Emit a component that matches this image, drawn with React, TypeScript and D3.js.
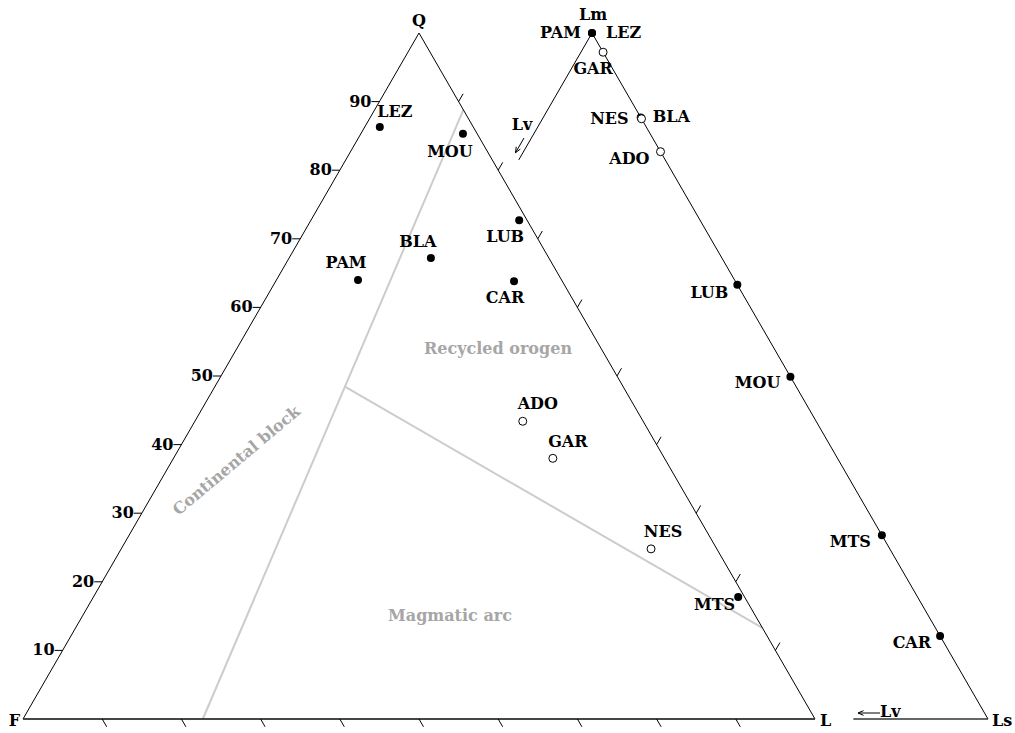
import React from "react";
import * as d3 from "d3";

// ---------- DATA ----------
// QFL diagram (percent)
const qflSamples = ["LEZ", "MOU", "BLA", "PAM", "LUB", "CAR", "ADO", "GAR", "NES", "MTS"];
const qflQ = [86.3, 85.3, 67.2, 64.0, 72.7, 63.8, 43.4, 38.0, 24.8, 17.8];
const qflF = [11.8, 1.8, 14.9, 25.7, 1.0, 6.1, 15.2, 14.1, 8.3, 0.8];
const qflL = [1.9, 12.9, 17.9, 10.3, 26.3, 30.1, 41.4, 47.9, 66.9, 81.4];
const qflOpen = [false, false, false, false, false, false, true, true, true, false];

// LmLvLs diagram (percent)
const lithSamples = ["PAM", "LEZ", "BLA", "GAR", "NES", "ADO", "LUB", "MOU", "MTS", "CAR"];
const lithLm = [100, 100, 87.7, 97.2, 87.5, 82.7, 63.3, 49.9, 26.8, 12.1];
const lithLv = [0, 0, 0, 0, 0, 0, 0, 0, 0, 0];
const lithLs = [0, 0, 12.3, 2.8, 12.5, 17.3, 36.7, 50.1, 73.2, 87.9];
const lithOpen = [false, false, false, true, true, true, false, false, false, false];

// Provenance field boundaries (Q, F, L)
const fieldLineContinental = [
  { Q: 0, F: 77.3, L: 22.7 },
  { Q: 88.8, F: 0, L: 11.2 },
];
const fieldLineArc = [
  { Q: 48.4, F: 35.1, L: 16.5 },
  { Q: 13.3, F: 0, L: 86.7 },
];
const fieldNames = ["Recycled orogen", "Magmatic arc", "Continental block"];

const qTickValues = [10, 20, 30, 40, 50, 60, 70, 80, 90];

// ---------- LAYOUT ----------
const W = 1015;
const H = 733;
const FONT = "'DejaVu Serif', serif";

const qflLabelPos: Record<string, [number, number, string]> = {
  LEZ: [15, -10, "middle"],
  MOU: [-13, 23, "middle"],
  BLA: [-13, -11, "middle"],
  PAM: [-12, -12, "middle"],
  LUB: [-14, 22, "middle"],
  CAR: [-9, 22, "middle"],
  ADO: [15, -12, "middle"],
  GAR: [15, -11, "middle"],
  NES: [12, -12, "middle"],
  MTS: [-3, 13, "end"],
};
const lithLabelPos: Record<string, [number, number, string]> = {
  PAM: [-11, 5, "end"],
  LEZ: [14, 5, "start"],
  GAR: [-10, 22, "middle"],
  BLA: [12, 5, "start"],
  NES: [-13, 5, "end"],
  ADO: [-11, 12, "end"],
  LUB: [-9, 13, "end"],
  MOU: [-10, 11, "end"],
  MTS: [-11, 12, "end"],
  CAR: [-9, 12, "end"],
};

export default function App() {
  // shared vertical scale (apex value 100 at top)
  const yScale = d3.scaleLinear().domain([0, 100]).range([719, 33]);
  const xQFL = d3.scaleLinear().domain([0, 100]).range([23, 815]);
  const xLith = d3.scaleLinear().domain([0, 100]).range([196, 988]);

  const pQFL = (Q: number, F: number, L: number): [number, number] => {
    const s = Q + F + L;
    const q = (Q / s) * 100;
    const l = (L / s) * 100;
    return [xQFL(l + q / 2), yScale(q)];
  };
  const pLith = (Lm: number, Lv: number, Ls: number): [number, number] => {
    const s = Lm + Lv + Ls;
    const m = (Lm / s) * 100;
    const r = (Ls / s) * 100;
    return [xLith(r + m / 2), yScale(m)];
  };

  const line = d3.line<[number, number]>();

  const Fv = pQFL(0, 100, 0);
  const Qv = pQFL(100, 0, 0);
  const Lv = pQFL(0, 0, 100);

  const Lmv = pLith(100, 0, 0);
  const Lsv = pLith(0, 0, 100);
  const lvEdgeEnd = pLith(81.5, 18.5, 0);
  const lvBottomStart = pLith(0, 17, 83);

  const tickLen = 9;
  const ticks: JSX.Element[] = [];
  qTickValues.forEach((v) => {
    // left edge (F-Q), horizontal to the left, labelled
    const a = pQFL(v, 100 - v, 0);
    ticks.push(
      <line key={"lt" + v} x1={a[0]} y1={a[1]} x2={a[0] - 8} y2={a[1]} stroke="#000" strokeWidth={1} />
    );
    ticks.push(
      <text key={"ll" + v} x={a[0] - 8} y={a[1] + 5} textAnchor="end" fontFamily={FONT} fontWeight="bold" fontSize={16}>
        {v}
      </text>
    );
    // right edge (Q-L), pointing up-right
    const b = pQFL(v, 0, 100 - v);
    ticks.push(
      <line
        key={"rt" + v}
        x1={b[0]}
        y1={b[1]}
        x2={b[0] + tickLen * 0.5}
        y2={b[1] - tickLen * 0.866}
        stroke="#000"
        strokeWidth={1}
      />
    );
    // bottom edge (F-L), pointing down-right
    const c = pQFL(0, 100 - v, v);
    ticks.push(
      <line
        key={"bt" + v}
        x1={c[0]}
        y1={c[1]}
        x2={c[0] + tickLen * 0.5}
        y2={c[1] + tickLen * 0.866}
        stroke="#000"
        strokeWidth={1}
      />
    );
  });

  const boundary1 = fieldLineContinental.map((d) => pQFL(d.Q, d.F, d.L));
  const boundary2 = fieldLineArc.map((d) => pQFL(d.Q, d.F, d.L));

  const labelStyle = { fontFamily: FONT, fontWeight: "bold" as const, fontSize: 16 };
  const grayStyle = { fontFamily: FONT, fontWeight: "bold" as const, fontSize: 16, fill: "#a6a6a6" };

  const renderPoint = (key: string, p: [number, number], open: boolean) =>
    open ? (
      <circle key={key} cx={p[0]} cy={p[1]} r={4} fill="#fff" stroke="#000" strokeWidth={1} />
    ) : (
      <circle key={key} cx={p[0]} cy={p[1]} r={4} fill="#000" />
    );

  // arrows for Lv
  const arrowA: [number, number] = [524, 138];
  const dir = [-0.5, 0.866];
  const arrowLen = 17;
  const arrowB: [number, number] = [arrowA[0] + dir[0] * arrowLen, arrowA[1] + dir[1] * arrowLen];
  const headLen = 6;
  const ang = Math.atan2(dir[1], dir[0]);
  const head = (tip: [number, number], a: number) => {
    const h1: [number, number] = [tip[0] - headLen * Math.cos(a - 0.4), tip[1] - headLen * Math.sin(a - 0.4)];
    const h2: [number, number] = [tip[0] - headLen * Math.cos(a + 0.4), tip[1] - headLen * Math.sin(a + 0.4)];
    return line([h1, tip, h2]) as string;
  };

  const bArrowStart: [number, number] = [880, 713];
  const bArrowEnd: [number, number] = [858, 713];

  return (
    <svg width={W} height={H} style={{ position: "absolute", left: 0, top: 0, background: "#fff" }}>
      {/* field boundaries */}
      <path d={line(boundary1) as string} stroke="#cccccc" strokeWidth={2} fill="none" />
      <path d={line(boundary2) as string} stroke="#cccccc" strokeWidth={2} fill="none" />

      {/* field names */}
      <text x={498} y={354} textAnchor="middle" {...grayStyle}>
        {fieldNames[0]}
      </text>
      <text x={450} y={621} textAnchor="middle" {...grayStyle}>
        {fieldNames[1]}
      </text>
      <text x={236} y={466} textAnchor="middle" transform="rotate(-40 236 460)" {...grayStyle}>
        {fieldNames[2]}
      </text>

      {/* QFL triangle */}
      <path d={(line([Fv, Qv, Lv]) as string) + "Z"} stroke="#000" strokeWidth={1} fill="none" />
      <line x1={Fv[0]} y1={Fv[1]} x2={Lv[0]} y2={Lv[1]} stroke="#333" strokeWidth={1.5} />
      {ticks}

      <text x={Qv[0]} y={Qv[1] - 7} textAnchor="middle" {...labelStyle}>Q</text>
      <text x={Fv[0] - 3} y={Fv[1] + 7} textAnchor="end" {...labelStyle}>F</text>
      <text x={Lv[0] + 5} y={Lv[1] + 7} textAnchor="start" {...labelStyle}>L</text>

      {/* Lm-Lv-Ls partial triangle */}
      <path d={line([lvEdgeEnd, Lmv, Lsv]) as string} stroke="#000" strokeWidth={1} fill="none" />
      <line x1={lvBottomStart[0]} y1={lvBottomStart[1]} x2={Lsv[0]} y2={Lsv[1]} stroke="#333" strokeWidth={1.5} />
      <text x={Lmv[0] + 1} y={Lmv[1] - 13} textAnchor="middle" {...labelStyle}>Lm</text>
      <text x={Lsv[0] + 4} y={Lsv[1] + 7} textAnchor="start" {...labelStyle}>Ls</text>

      {/* Lv arrows */}
      <line x1={arrowA[0]} y1={arrowA[1]} x2={arrowB[0]} y2={arrowB[1]} stroke="#000" strokeWidth={1} />
      <path d={head(arrowB, ang)} stroke="#000" strokeWidth={1} fill="none" />
      <text x={522} y={130} textAnchor="middle" {...labelStyle}>Lv</text>

      <line x1={bArrowStart[0]} y1={bArrowStart[1]} x2={bArrowEnd[0]} y2={bArrowEnd[1]} stroke="#000" strokeWidth={1} />
      <path d={head(bArrowEnd, Math.PI)} stroke="#000" strokeWidth={1} fill="none" />
      <text x={880} y={717} textAnchor="start" {...labelStyle}>Lv</text>

      {/* QFL points */}
      {qflSamples.map((s, i) => {
        const p = pQFL(qflQ[i], qflF[i], qflL[i]);
        const lp = qflLabelPos[s];
        return (
          <g key={"q" + s}>
            {renderPoint("qc" + s, p, qflOpen[i])}
            <text x={p[0] + lp[0]} y={p[1] + lp[1]} textAnchor={lp[2] as any} {...labelStyle}>
              {s}
            </text>
          </g>
        );
      })}

      {/* Lithic points */}
      {lithSamples.map((s, i) => {
        const p = pLith(lithLm[i], lithLv[i], lithLs[i]);
        const lp = lithLabelPos[s];
        return (
          <g key={"l" + s}>
            {renderPoint("lc" + s, p, lithOpen[i])}
            <text x={p[0] + lp[0]} y={p[1] + lp[1]} textAnchor={lp[2] as any} {...labelStyle}>
              {s}
            </text>
          </g>
        );
      })}
    </svg>
  );
}
